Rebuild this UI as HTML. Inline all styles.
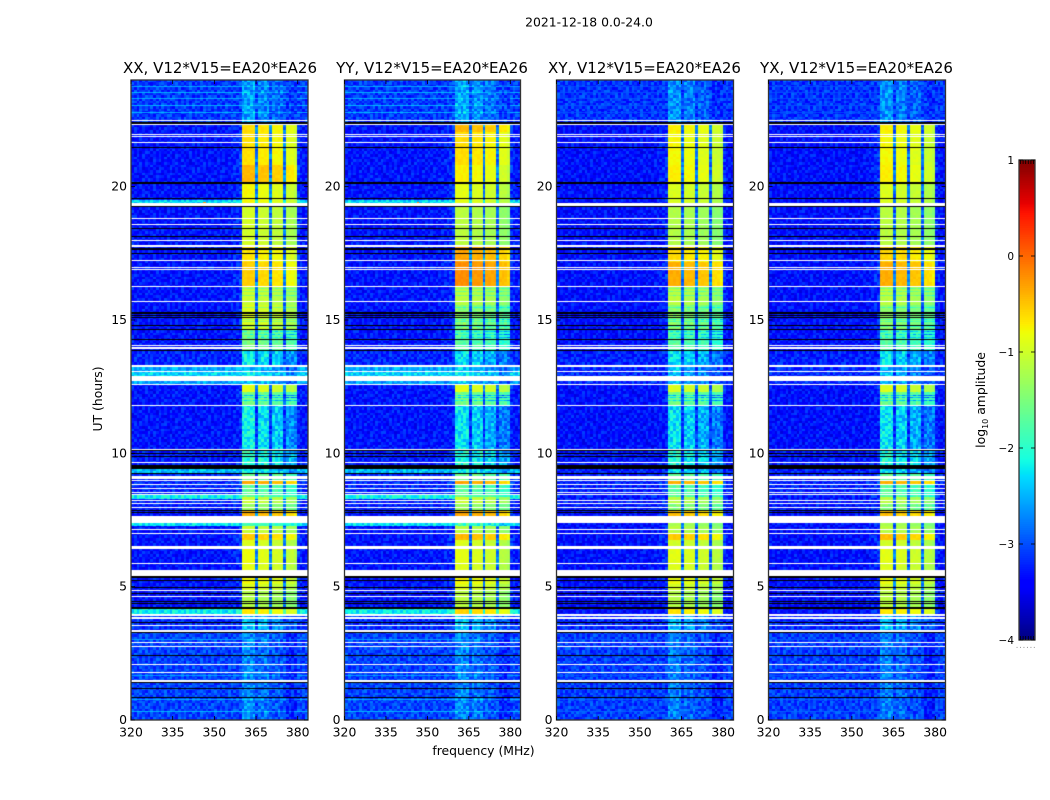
<!DOCTYPE html>
<html lang="en">
<head>
<meta charset="utf-8">
<title>2021-12-18 0.0-24.0</title>
<style>
html,body{margin:0;padding:0;background:#fff;}
#figure{position:relative;width:1050px;height:800px;overflow:hidden;background:#fff;font-family:"DejaVu Sans","Liberation Sans",sans-serif;}
canvas{position:absolute;display:block;}
svg{position:absolute;left:0;top:0;}
text{font-family:"DejaVu Sans","Liberation Sans",sans-serif;fill:#000;}
</style>
</head>
<body>
<div id="figure">
<canvas id="heat-xx"></canvas>
<canvas id="heat-yy"></canvas>
<canvas id="heat-xy"></canvas>
<canvas id="heat-yx"></canvas>
<canvas id="colorbar"></canvas>
<svg id="overlay" width="1050" height="800">
  <text x="589" y="26.5" font-size="12.4" text-anchor="middle">2021-12-18 0.0-24.0</text>
  <text x="220" y="73" font-size="15" text-anchor="middle">XX, V12*V15=EA20*EA26</text>
  <text x="432" y="73" font-size="15" text-anchor="middle">YY, V12*V15=EA20*EA26</text>
  <text x="644.5" y="73" font-size="15" text-anchor="middle">XY, V12*V15=EA20*EA26</text>
  <text x="856.5" y="73" font-size="15" text-anchor="middle">YX, V12*V15=EA20*EA26</text>
  <text x="483.5" y="755" font-size="12.4" text-anchor="middle">frequency (MHz)</text>
  <text transform="translate(102,399) rotate(-90)" font-size="12.4" text-anchor="middle">UT (hours)</text>
  <text transform="translate(985,400) rotate(-90)" font-size="12.4" text-anchor="middle">log<tspan font-size="8" dy="3">10</tspan><tspan dy="-3"> amplitude</tspan></text>
  <text x="1026" y="648" font-size="9" text-anchor="middle" style="fill:#999" letter-spacing="0.6">......</text>
</svg>
</div>
<script>
// ---- chart values, all read by eye from the picture ----
const polarizations = ['xx', 'yy', 'xy', 'yx'];
const freqTicks = [320, 335, 350, 365, 380];
const hourTicks = [0, 5, 10, 15, 20];
const colorbarTicks = [1, 0, -1, -2, -3, -4];
const freqRange = [320, 383.7];
const hourRange = [0, 24];
const colorRange = [-4, 1];
const channelCount = 64;
const binCount = 640; // one time bin = 0.0375 h

// Share of the band level seen in each 1 MHz channel (band edges 360-380 MHz, notches at 365/370/375)
const channelBandWeight = [
 0,0,0,0,0,0,0,0,0,0, 0,0,0,0,0,0,0,0,0,0,
 0,0,0,0,0,0,0,0,0,0, 0,0,0,0,0,0.01,0.02,0.03,0.05,0.07,
 1,1,1,1,1,0.2,1,1,1,1, 0.2,1,1,1,1,0.2,1,1,1,0.96,
 0.06,0.03,0,0];
// Level difference of each sub-band relative to the band level: 360-365, 365-370, 370-375, 375-380 MHz
const subbandOffsets = [0.08, 0.02, -0.05, -0.18];

// Time segments, log10 amplitude per segment, start bins ascending
const segmentStartBins = [0,90,106,111,130,136,143,157,171,180,187,194,204,210,217,223,236,239,247,255,271,315,328,336,354,370,390,415,434,458,475,515,537,555,588,598];
const bandLevelsXX = [-2.85,-2.55,-0.75,-1.25,-1.0,-0.85,-0.95,-0.9,-1.0,-0.6,-1.1,-1.9,-0.45,-1.4,-1.1,-1.75,-0.4,-1.6,-2.3,-2.1,-2.3,-1.6,-0.95,-2.55,-2.3,-1.6,-1.0,-1.1,-0.62,-0.75,-1.05,-0.85,-0.5,-0.72,-0.7,-2.75];
const bandLevelsYY = [-2.85,-2.55,-0.65,-1.2,-1.0,-0.85,-1.0,-0.95,-1.0,-0.5,-1.2,-2.0,-0.4,-1.4,-1.1,-1.75,-0.4,-1.6,-2.3,-2.2,-2.4,-1.6,-0.95,-2.55,-2.4,-1.8,-1.5,-1.2,-0.28,-0.4,-1.2,-0.95,-0.8,-0.7,-0.5,-2.7];
const bandLevelsXY = [-2.9,-2.6,-0.75,-1.25,-1.05,-0.9,-1.0,-0.95,-1.05,-0.6,-1.2,-1.3,-0.55,-1.5,-1.2,-1.8,-0.45,-1.7,-2.4,-2.2,-2.4,-1.65,-1.0,-2.6,-2.4,-1.8,-1.5,-1.2,-0.45,-0.7,-1.25,-1.0,-0.8,-0.85,-0.8,-2.8];
const bandLevelsYX = [-2.9,-2.6,-0.75,-1.2,-1.05,-0.9,-1.0,-0.95,-1.05,-0.55,-1.2,-1.3,-0.55,-1.5,-1.2,-1.8,-0.45,-1.7,-2.4,-2.2,-2.4,-1.65,-1.0,-2.6,-2.4,-1.8,-1.45,-1.2,-0.45,-0.65,-1.2,-1.0,-0.8,-0.85,-0.8,-2.8];
const backgroundLevels = [-3.05,-3.15,-3.3,-3.3,-3.3,-3.3,-3.3,-3.3,-3.3,-3.3,-3.3,-3.3,-3.3,-3.25,-3.25,-3.2,-3.2,-3.2,-3.2,-3.25,-3.3,-3.3,-3.3,-3.15,-3.2,-3.3,-3.3,-3.3,-3.3,-3.3,-3.3,-3.3,-3.3,-3.3,-3.3,-3.1];
const polarizationBackgroundOffset = [0, 0, -0.03, -0.03];

// Flagged (blank) and zero-amplitude (black) rows, as [startBin, endBin) ranges
const whiteBinRanges = [[599,600],[595,596],[585,586],[583,584],[577,578],[514,517],[501,502],[495,496],[479,480],[473,475],[459,460],[452,453],[450,451],[433,434],[418,419],[374,375],[371,373],[353,355],[348,349],[339,344],[335,336],[314,315],[270,271],[257,258],[241,244],[239,240],[235,236],[231,232],[227,228],[225,226],[219,220],[216,217],[212,213],[197,204],[190,191],[186,187],[171,174],[156,157],[144,150],[129,130],[123,124],[104,106],[101,103],[94,95],[88,90],[77,78],[73,74],[55,56],[47,48],[38,40]];
const blackBinRanges = [[596,598],[572,573],[536,538],[521,522],[513,514],[491,492],[483,484],[470,472],[466,467],[406,408],[404,405],[402,403],[394,395],[390,391],[380,381],[369,370],[269,270],[266,267],[263,264],[251,255],[246,247],[209,210],[207,208],[142,144],[139,140],[132,133],[126,127],[118,119],[116,117],[111,113],[97,98],[87,88],[64,65],[37,38],[31,32],[22,23]];

// Broadband bright rows in the XX and YY panels only: [startBin, endBin, level]
const coPolBroadbandRows = [[517,520,-2.3],[349,353,-2.55],[344,348,-2.35],[336,339,-2.6],[247,251,-2.45],[221,225,-2.15],[194,197,-2.25],[106,111,-2.2]];
// Faint narrow rows near the start and end of the day: [bin, XX/YY level, XY/YX level]
const faintRows = [[633,-2.55,-3.0],[627,-2.5,-3.0],[621,-2.55,-3.0],[614,-2.5,-3.0],[607,-2.5,-3.0],[80,-2.6,-2.95],[44,-2.6,-2.95],[20,-2.55,-2.9],[8,-2.5,-2.9]];
// Narrow horizontal dips across the band: [bin, level change]
const bandDipRows = [[431,-0.4],[428,-0.35],[424,-0.4],[412,-0.4],[400,-0.45],[398,-0.4],[393,-0.4],[388,-0.45],[385,-0.4],[382,-0.4],[324,-0.8],[322,-0.7],[319,-0.6]];
// Isolated bright spots: [channel, bin, level]
const hotSpots = [[26,517,-0.2],[26,64,-0.4]];

// Fixed hand-typed texture tile suggesting the pixel noise; it is an approximation, not measured per-cell data
const speckleTile = [
 "27419360852741630958142","61835207469318250746391","40972618350829416537208",
 "83516049273604981726453","19264873051742638094517","75038196426850317249680",
 "32687405919263754081326","58140732686037192564809","94726351802495608317254",
 "06391847527183046925718","47852069361590827436102","21639584708346159072865",
 "86075213949627430518396","53924670182059763841207","18467302956814205697483",
 "70293856414738926150634","35681947025160873492716","92540168373925614087259",
 "64017539286471038526941"];

// ---- layout ----
const panelLeft = [131, 344.5, 556.5, 768.5];
const panelWidth = [177, 176, 177, 177];
const plotTop = 80, plotBottom = 720;
const bandLevelsByPol = [bandLevelsXX, bandLevelsYY, bandLevelsXY, bandLevelsYX];

// ---- scales ----
function yScale(hour) {
  return plotBottom - (hour - hourRange[0]) / (hourRange[1] - hourRange[0]) * (plotBottom - plotTop);
}
function xScale(freq, p) {
  return (freq - freqRange[0]) / (freqRange[1] - freqRange[0]) * panelWidth[p];
}
function binHour(bin) { return bin * (hourRange[1] - hourRange[0]) / binCount; }
function channelFreq(ch) { return freqRange[0] + ch * (freqRange[1] - freqRange[0]) / channelCount; }
function lerp(pts, v) {
  for (let i = 1; i < pts.length; i++) {
    if (v <= pts[i][0]) {
      return pts[i-1][1] + (pts[i][1] - pts[i-1][1]) * (v - pts[i-1][0]) / (pts[i][0] - pts[i-1][0]);
    }
  }
  return pts[pts.length-1][1];
}
const jetR = [[0,0],[0.35,0],[0.66,1],[0.89,1],[1,0.5]];
const jetG = [[0,0],[0.125,0],[0.375,1],[0.64,1],[0.91,0],[1,0]];
const jetB = [[0,0.5],[0.11,1],[0.34,1],[0.65,0],[1,0]];
const jetCache = [];
for (let i = 0; i <= 512; i++) {
  const t = i / 512;
  jetCache.push('rgb(' + Math.round(255*lerp(jetR,t)) + ',' + Math.round(255*lerp(jetG,t)) + ',' + Math.round(255*lerp(jetB,t)) + ')');
}
function colorOf(level) {
  const t = Math.max(0, Math.min(1, (level - colorRange[0]) / (colorRange[1] - colorRange[0])));
  return jetCache[Math.round(t * 512)];
}
function inRanges(ranges, bin) {
  for (const r of ranges) { if (bin >= r[0] && bin < r[1]) return true; }
  return false;
}
function segmentOf(bin) {
  let s = 0;
  for (let i = 0; i < segmentStartBins.length; i++) { if (bin >= segmentStartBins[i]) s = i; }
  return s;
}
function subbandOf(ch) {
  return ch < 45 ? 0 : ch < 50 ? 1 : ch < 55 ? 2 : 3;
}

// ---- heatmaps ----
polarizations.forEach(function (pol, p) {
  const canvas = document.getElementById('heat-' + pol);
  canvas.width = panelWidth[p];
  canvas.height = plotBottom - plotTop;
  canvas.style.left = panelLeft[p] + 'px';
  canvas.style.top = plotTop + 'px';
  const ctx = canvas.getContext('2d');
  const coPol = p < 2;
  const bands = bandLevelsByPol[p];
  for (let bin = 0; bin < binCount; bin++) {
    const y1 = Math.round(yScale(binHour(bin + 1))) - plotTop;
    const y0 = Math.round(yScale(binHour(bin))) - plotTop;
    if (inRanges(whiteBinRanges, bin)) continue;
    if (inRanges(blackBinRanges, bin)) {
      ctx.fillStyle = '#000';
      ctx.fillRect(0, y1, panelWidth[p], y0 - y1);
      continue;
    }
    const seg = segmentOf(bin);
    let bg = backgroundLevels[seg] + polarizationBackgroundOffset[p];
    if (coPol) {
      for (const r of coPolBroadbandRows) { if (bin >= r[0] && bin < r[1]) bg = r[2]; }
    }
    let faint = false;
    for (const f of faintRows) {
      if (f[0] === bin) { bg = coPol ? f[1] : f[2]; faint = true; }
    }
    let bandLevel = bands[seg];
    for (const d of bandDipRows) { if (d[0] === bin) bandLevel += d[1]; }
    const band = Math.max(bandLevel, bg);
    const dim = band < -1.9;
    const tileIndex = Math.floor(bin / 2.667) + p * 5;
    const tileRow = speckleTile[tileIndex % speckleTile.length];
    const tileShift = Math.floor(tileIndex / speckleTile.length) * 5 + p * 7;
    for (let ch = 0; ch < channelCount; ch++) {
      const x0 = Math.round(xScale(channelFreq(ch), p));
      const x1 = Math.round(xScale(channelFreq(ch + 1), p));
      const w = channelBandWeight[ch];
      let level = bg + (band - bg) * w;
      if (w > 0.5) {
        level += subbandOffsets[subbandOf(ch)] * (dim ? 2 : 1);
      }
      const d = (tileRow.charCodeAt((ch + tileShift) % tileRow.length) - 48 - 4.5) / 4.5;
      const amp = w > 0.5 ? (band > -1.5 ? 0.05 : (dim ? 0.3 : 0.15)) : (faint ? 0.06 : 0.26);
      level += d * amp;
      if (coPol) {
        for (const s of hotSpots) { if (s[0] === ch && s[1] === bin) level = s[2]; }
      }
      ctx.fillStyle = colorOf(level);
      ctx.fillRect(x0, y1, x1 - x0, y0 - y1);
    }
  }
});

// ---- colorbar ----
const cbLeft = 1019, cbWidth = 16, cbTop = 160, cbBottom = 640;
function cbScale(v) { return cbBottom - (v - colorRange[0]) / (colorRange[1] - colorRange[0]) * (cbBottom - cbTop); }
(function () {
  const c = document.getElementById('colorbar');
  c.width = cbWidth;
  c.height = cbBottom - cbTop;
  c.style.left = cbLeft + 'px';
  c.style.top = cbTop + 'px';
  const ctx = c.getContext('2d');
  for (let i = 0; i < 256; i++) {
    const a = colorRange[0] + (colorRange[1] - colorRange[0]) * i / 256;
    const b = colorRange[0] + (colorRange[1] - colorRange[0]) * (i + 1) / 256;
    ctx.fillStyle = colorOf((a + b) / 2);
    const top = Math.floor(cbScale(b)) - cbTop;
    ctx.fillRect(0, top, cbWidth, Math.ceil(cbScale(a)) - cbTop - top);
  }
})();

// ---- axes ----
const svg = document.getElementById('overlay');
const NS = 'http://www.w3.org/2000/svg';
function addLine(x1, y1, x2, y2, w) {
  const l = document.createElementNS(NS, 'line');
  l.setAttribute('x1', x1);
  l.setAttribute('y1', y1);
  l.setAttribute('x2', x2);
  l.setAttribute('y2', y2);
  l.setAttribute('stroke', '#000');
  l.setAttribute('stroke-width', w || 0.8);
  svg.appendChild(l);
  return l;
}
function addText(x, y, str, anchor, size) {
  const t = document.createElementNS(NS, 'text');
  t.setAttribute('x', x);
  t.setAttribute('y', y);
  t.setAttribute('font-size', size);
  t.setAttribute('text-anchor', anchor);
  t.textContent = str;
  svg.appendChild(t);
  return t;
}
function addFrame(x, y, w, h) {
  const r = document.createElementNS(NS, 'rect');
  r.setAttribute('x', x);
  r.setAttribute('y', y);
  r.setAttribute('width', w);
  r.setAttribute('height', h);
  r.setAttribute('fill', 'none');
  r.setAttribute('stroke', '#333');
  r.setAttribute('stroke-width', 1.3);
  svg.appendChild(r);
  return r;
}
polarizations.forEach(function (pol, p) {
  const left = panelLeft[p], width = panelWidth[p];
  const frame = addFrame(left, plotTop, width, plotBottom - plotTop);
  
  
  freqTicks.forEach(function (f) {
    const x = left + xScale(f, p);
    const bottomTick = addLine(x, plotBottom, x, plotBottom - 4);
    
    
    const topTick = addLine(x, plotTop, x, plotTop + 4);
    
    
    const label = addText(x, 736.5, String(f), 'middle', 12.4);
    
    
  });
  hourTicks.forEach(function (h) {
    const y = yScale(h);
    const leftTick = addLine(left, y, left + 4, y);
    
    
    const rightTick = addLine(left + width, y, left + width - 4, y);
    
    
    const label = addText(left - 4, y + 4, String(h), 'end', 12.4);
    
    
  });
});
const cbFrame = addFrame(cbLeft, cbTop, cbWidth, cbBottom - cbTop);


colorbarTicks.forEach(function (v) {
  const y = cbScale(v);
  const tickL = addLine(cbLeft, y, cbLeft + 4, y);
  
  
  const tickR = addLine(cbLeft + cbWidth, y, cbLeft + cbWidth - 4, y);
  
  
  const label = addText(cbLeft - 5, y + 4, String(v).replace('-', '\u2212'), 'end', 10.5);
  
  
});
[0, 1, 2, 3, 4, 5].forEach(function (i) {
  const x = cbLeft + 1.5 + i * 2.6;
  const topHatch = addLine(x, cbTop, x, cbTop + 4);
  
  
  const bottomHatch = addLine(x, cbBottom, x, cbBottom - 4);
  
  
});
</script>
</body>
</html>
